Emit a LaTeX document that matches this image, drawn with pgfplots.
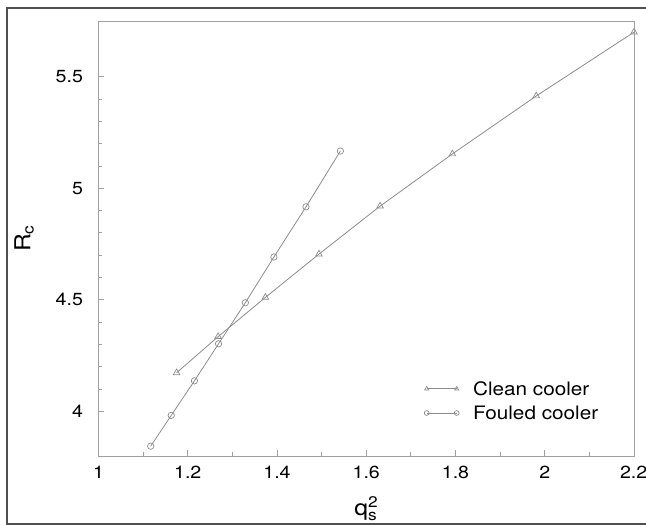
\documentclass[border=0pt]{standalone}
\usepackage{amsmath}
\usepackage{fontspec}
\setmainfont[FakeStretch=1.12]{TeX Gyre Heros}
\usepackage{pgfplots}
\pgfplotsset{compat=1.18}

\definecolor{axisgray}{HTML}{A0A0A0}
\definecolor{datagray}{HTML}{8C8C8C}
\definecolor{framegray}{HTML}{505050}

\begin{document}
\begin{tikzpicture}[x=1pt,y=1pt]
\useasboundingbox (0,0) rectangle (646,525);
% outer frame
\draw[framegray, line width=1.6pt] (646,517) -- (7,517) -- (7,1) -- (646,1);

\begin{axis}[
    at={(98.5pt,69pt)}, anchor=south west,
    scale only axis,
    width=535.5pt, height=435pt,
    xmin=1, xmax=2.2,
    ymin=3.8, ymax=5.75,
    xtick={1,1.2,...,2.21},
    xticklabels={1,1.2,1.4,1.6,1.8,2,\rlap{\hspace{-14pt}2.2}},
    ytick={4,4.5,5,5.5},
    minor x tick num=1,
    minor y tick num=4,
    tick align=inside,
    xtick pos=left, ytick pos=left,
    major tick length=6pt, minor tick length=3.5pt,
    axis line style={axisgray, line width=0.9pt},
    every tick/.style={axisgray, line width=0.9pt},
    /pgf/number format/assume math mode=true,
    ticklabel style={font=\fontsize{17.5}{21}\selectfont},
    xticklabel style={yshift=-6.2pt},
    yticklabel style={xshift=-12pt},
    xlabel={$\text{q}_{\text{s}}^{\text{2}}$},
    ylabel={$\text{R}_{\text{c}}$},
    xlabel style={at={(axis description cs:0.5,-0.122)}, anchor=center, font=\fontsize{22}{26}\selectfont},
    ylabel style={at={(axis description cs:-0.139,0.5)}, anchor=center, rotate=0, font=\fontsize{22}{26}\selectfont},
    legend style={at={(axis description cs:0.608,0.177)}, anchor=north west, draw=none, fill=none,
        font=\fontsize{18.5}{22}\selectfont, row sep=5pt, inner sep=0pt},
    legend cell align=left,
    legend image code/.code={\draw[#1, mark size=2.4pt] plot coordinates {(0pt,0pt) (30pt,0pt)}; \path (44pt,0pt);},
    every axis plot/.append style={datagray, line width=0.8pt, mark options={solid, line width=0.7pt}},
]
\addplot[mark=triangle, mark size=3.8pt] coordinates {
    (1.175,4.173) (1.268,4.335) (1.374,4.511) (1.494,4.705)
    (1.631,4.920) (1.793,5.154) (1.981,5.414) (2.200,5.700)
};
\addlegendentry{Clean cooler}
\addplot[mark=o, mark size=3.2pt] coordinates {
    (1.117,3.844) (1.163,3.982) (1.215,4.137) (1.269,4.303)
    (1.329,4.487) (1.393,4.692) (1.465,4.917) (1.542,5.167)
};
\addlegendentry{Fouled cooler}
\end{axis}
\end{tikzpicture}
\end{document}
